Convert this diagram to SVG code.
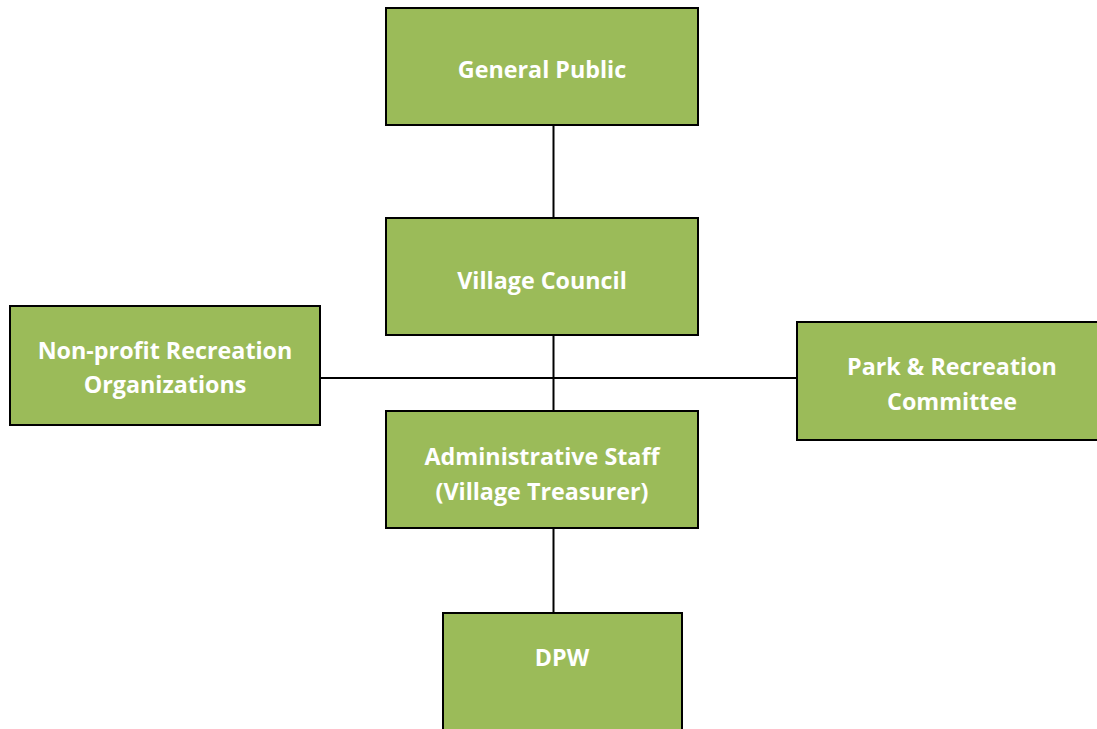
<svg xmlns="http://www.w3.org/2000/svg" width="1097" height="729" viewBox="0 0 1097 729">
<style>
.box{fill:#9BBB59;stroke:#000;stroke-width:2}
.lbl{font-family:"Open Sans","Liberation Sans",sans-serif;font-weight:bold;font-size:23.3px;fill:#fff;text-anchor:middle}
.conn{stroke:#000;stroke-width:2;fill:none}
</style>
<rect width="1097" height="729" fill="#fff"/>
<g id="connectors">
<line class="conn" x1="553.5" y1="126" x2="553.5" y2="218"/>
<line class="conn" x1="553.5" y1="336" x2="553.5" y2="411"/>
<line class="conn" x1="321" y1="378" x2="796" y2="378"/>
<line class="conn" x1="553.5" y1="529" x2="553.5" y2="612"/>
</g>
<g id="general-public">
<rect class="box" x="386" y="8" width="312" height="117"/>
<text class="lbl" x="542" y="78">General Public</text>
</g>
<g id="village-council">
<rect class="box" x="386" y="218" width="312" height="117"/>
<text class="lbl" x="542" y="289">Village Council</text>
</g>
<g id="non-profit">
<rect class="box" x="10" y="306" width="310" height="119"/>
<text class="lbl" x="165" y="359">Non-profit Recreation</text>
<text class="lbl" x="165" y="393">Organizations</text>
</g>
<g id="park-recreation">
<rect class="box" x="797" y="322" width="310" height="118"/>
<text class="lbl" x="952" y="375">Park &amp; Recreation</text>
<text class="lbl" x="952" y="410">Committee</text>
</g>
<g id="admin-staff">
<rect class="box" x="386" y="411" width="312" height="117"/>
<text class="lbl" x="542" y="465">Administrative Staff</text>
<text class="lbl" x="542" y="500">(Village Treasurer)</text>
</g>
<g id="dpw">
<rect class="box" x="443" y="613" width="239" height="130"/>
<text class="lbl" x="562" y="666">DPW</text>
</g>
</svg>
